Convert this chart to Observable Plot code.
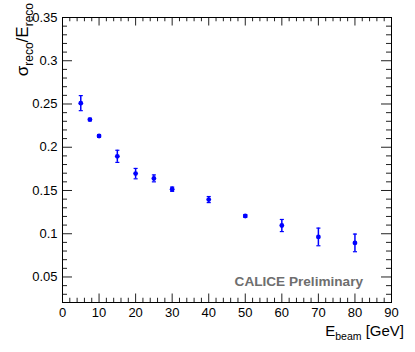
<!DOCTYPE html>
<html>
<head>
<meta charset="utf-8">
<script src="https://cdn.jsdelivr.net/npm/d3@7"></script>
<script src="https://cdn.jsdelivr.net/npm/@observablehq/plot@0.6"></script>
<style>
  html, body { margin: 0; padding: 0; background: white; }
</style>
</head>
<body>
<div id="chart"></div>
<script>
// Data
const beamEnergy = [5, 7.5, 10, 15, 20, 25, 30, 40, 50, 60, 70, 80];
const resolution = [0.251, 0.232, 0.213, 0.1895, 0.1695, 0.164, 0.1515, 0.1395, 0.1205, 0.1095, 0.0963, 0.0894];
const resolutionError = [0.0087, 0.0015, 0.0015, 0.007, 0.006, 0.004, 0.0025, 0.0035, 0.0015, 0.007, 0.0102, 0.0102];

const xMajorTicks = [0, 10, 20, 30, 40, 50, 60, 70, 80, 90];
const xMinorTicks = d3.range(0, 91, 2).filter(v => v % 10 !== 0);
const yMajorTicks = [0.05, 0.1, 0.15, 0.2, 0.25, 0.3, 0.35];
const yMinorTicks = d3.range(3, 35).filter(v => v % 5 !== 0).map(v => v / 100);

const xTitle = {main: "E", sub: "beam", rest: " [GeV]"};
const yTitle = {main1: "σ", sub1: "reco", main2: "/E", sub2: "reco"};
const watermark = "CALICE Preliminary";

const points = beamEnergy.map((e, i) => ({e, r: resolution[i], err: resolutionError[i]}));

const W = 415, H = 352;
const mL = 62, mR = 24, mT = 17, mB = 50;
const plotH = H - mT - mB, plotW = W - mL - mR;
const xTick = 8.5, yTick = 10;
const tickColor = "#222";
const blue = "#0000ff";

const capSymbol = {
  draw(ctx, size) {
    const w = Math.sqrt(size);
    ctx.moveTo(-w / 2, 0);
    ctx.lineTo(w / 2, 0);
  }
};

const font = "'Liberation Sans', Arial, Helvetica, sans-serif";

const titles = (index, scales, values, dims) => {
  const g = d3.create("svg:g").attr("font-family", font).attr("fill", "black");
  // x title
  const xt = g.append("text")
    .attr("x", dims.width - dims.marginRight + 13)
    .attr("y", dims.height - 16)
    .attr("text-anchor", "end")
    .attr("font-size", 15);
  xt.append("tspan").text(xTitle.main);
  xt.append("tspan").attr("font-size", 10.5).attr("dy", 4).text(xTitle.sub);
  xt.append("tspan").attr("dy", -4).text(xTitle.rest);
  // y title
  const yt = g.append("text")
    .attr("transform", `translate(28,3) rotate(-90)`)
    .attr("text-anchor", "end")
    .attr("font-size", 17);
  yt.append("tspan").text(yTitle.main1);
  yt.append("tspan").attr("font-size", 12).attr("dy", 4.5).text(yTitle.sub1);
  yt.append("tspan").attr("dy", -4.5).text(yTitle.main2);
  yt.append("tspan").attr("font-size", 12).attr("dy", 4.5).text(yTitle.sub2);
  // watermark
  g.append("text")
    .attr("x", dims.width - dims.marginRight - 28)
    .attr("y", dims.height - dims.marginBottom - 16.5)
    .attr("text-anchor", "end")
    .attr("font-size", 13.6)
    .attr("font-weight", "bold")
    .attr("fill", "#6e6e6e")
    .text(watermark);
  return g.node();
};

const chart = Plot.plot({
  width: W,
  height: H,
  marginLeft: mL,
  marginRight: mR,
  marginTop: mT,
  marginBottom: mB,
  style: {fontFamily: font, fontSize: "13px", background: "white", color: "black", overflow: "visible"},
  x: {domain: [0, 90]},
  y: {domain: [0.0205, 0.35]},
  marks: [
    // inward ticks bottom/top
    Plot.tickX(xMajorTicks, {x: d => d, insetTop: plotH - xTick, stroke: tickColor}),
    Plot.tickX(xMinorTicks, {x: d => d, insetTop: plotH - xTick / 2, stroke: tickColor}),
    Plot.tickX(xMajorTicks, {x: d => d, insetBottom: plotH - xTick, stroke: tickColor}),
    Plot.tickX(xMinorTicks, {x: d => d, insetBottom: plotH - xTick / 2, stroke: tickColor}),
    // inward ticks left/right
    Plot.tickY(yMajorTicks, {y: d => d, insetRight: plotW - yTick, stroke: tickColor}),
    Plot.tickY(yMinorTicks, {y: d => d, insetRight: plotW - yTick / 2, stroke: tickColor}),
    Plot.tickY(yMajorTicks, {y: d => d, insetLeft: plotW - yTick, stroke: tickColor}),
    Plot.tickY(yMinorTicks, {y: d => d, insetLeft: plotW - yTick / 2, stroke: tickColor}),
    Plot.axisX(xMajorTicks, {tickSize: 0, tickPadding: 5, tickFormat: d => String(d), label: null, fontSize: 13}),
    Plot.axisY(yMajorTicks, {tickSize: 0, tickPadding: 5, tickFormat: d => d3.format("~g")(d), label: null, fontSize: 13}),
    Plot.frame({stroke: "black"}),
    // error bars
    Plot.ruleX(points, {x: "e", y1: d => d.r - d.err, y2: d => d.r + d.err, stroke: blue, strokeWidth: 1.5}),
    Plot.dot(points, {x: "e", y: d => d.r - d.err, symbol: capSymbol, r: 2.3, stroke: blue, strokeWidth: 1.2, fill: "none"}),
    Plot.dot(points, {x: "e", y: d => d.r + d.err, symbol: capSymbol, r: 2.3, stroke: blue, strokeWidth: 1.2, fill: "none"}),
    Plot.dot(points, {x: "e", y: "r", r: 2.4, fill: blue, stroke: "none"}),
    titles
  ]
});

document.getElementById("chart").appendChild(chart);
</script>
</body>
</html>
